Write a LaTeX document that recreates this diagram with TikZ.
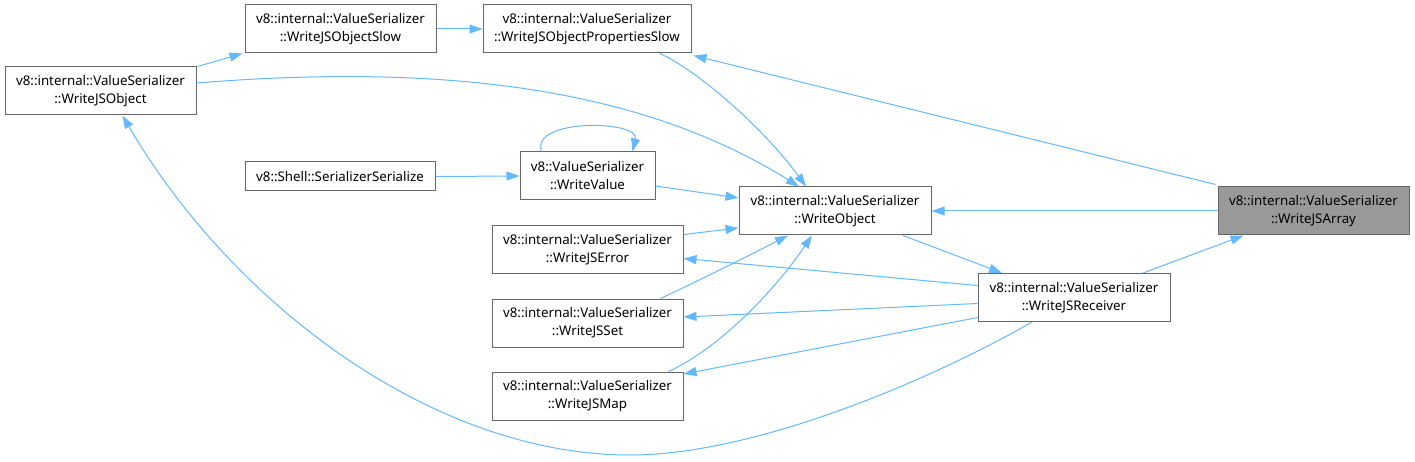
\documentclass[tikz,border=0pt]{standalone}
\usepackage{fontspec}
\setmainfont{Noto Sans}
\usetikzlibrary{arrows.meta}
\definecolor{edgeblue}{HTML}{63B8FF}
\definecolor{boxgray}{HTML}{666666}
\definecolor{hlgray}{HTML}{999999}
\begin{document}
\begin{tikzpicture}[x=1pt,y=-1pt,
  box/.style={draw=boxgray, line width=1pt, fill=white, align=center, inner sep=0pt,
    minimum height=48pt, font=\fontsize{13.3}{18}\selectfont},
  edge/.style={draw=edgeblue, line width=1pt, -{Triangle[length=13pt,width=9pt]}}]
\useasboundingbox (0,0) rectangle (1415,462);

\node[box, minimum width=191pt] (wjso) at (100.5,91) {v8::internal::ValueSerializer\\::WriteJSObject};
\node[box, minimum width=191pt] (slow) at (340.5,29) {v8::internal::ValueSerializer\\::WriteJSObjectSlow};
\node[box, minimum width=208pt] (ps) at (587,29) {v8::internal::ValueSerializer\\::WriteJSObjectPropertiesSlow};
\node[box, minimum width=190pt, minimum height=29pt] (ss) at (340,176.5) {v8::Shell::SerializerSerialize};
\node[box, minimum width=135pt] (wv) at (587.5,176) {v8::ValueSerializer\\::WriteValue};
\node[box, minimum width=192pt] (wo) at (835,211) {v8::internal::ValueSerializer\\::WriteObject};
\node[box, minimum width=191pt] (wje) at (587.5,249.5) {v8::internal::ValueSerializer\\::WriteJSError};
\node[box, minimum width=191pt] (wjs) at (587.5,323) {v8::internal::ValueSerializer\\::WriteJSSet};
\node[box, minimum width=191pt] (wjm) at (587.5,396) {v8::internal::ValueSerializer\\::WriteJSMap};
\node[box, minimum width=191pt, fill=hlgray] (wja) at (1313.5,211) {v8::internal::ValueSerializer\\::WriteJSArray};
\node[box, minimum width=192pt] (wjr) at (1074,297.5) {v8::internal::ValueSerializer\\::WriteJSReceiver};

% edges
\draw[edge] ([xshift=1pt]wjso.north east) -- ([xshift=-2pt]slow.south west);
\draw[edge] (slow.east) -- (ps.west);
\draw[edge] ([yshift=8pt]wjso.east) .. controls (480,60) and (660,100) .. ([xshift=-36pt]wo.north);
\draw[edge] ([xshift=73pt]ps.south) .. controls (700,72) and (765,130) .. ([xshift=-29pt]wo.north);
\draw[edge] ([xshift=-2pt,yshift=2pt]wja.north west) -- ([xshift=2pt,yshift=-2pt]ps.south east);
\draw[edge] ([xshift=-46pt]wv.north) .. controls (530,118) and (640,120) .. ([xshift=45pt]wv.north);
\draw[edge] (ss.east) -- (wv.west);
\draw[edge] ([yshift=-10pt]wv.east) -- ([yshift=13pt]wo.west);
\draw[edge] (wja.west) -- (wo.east);
\draw[edge] ([yshift=15pt]wje.east) -- ([yshift=-17pt]wo.west);
\draw[edge] ([xshift=68pt]wo.south) -- ([xshift=-72pt]wjr.north);
\draw[edge] ([xshift=69pt]wjr.north) -- ([xshift=-70pt]wja.south);
\draw[edge] ([yshift=12pt]wjr.west) -- ([yshift=-9pt]wje.east);
\draw[edge] ([yshift=-6pt]wjr.west) -- ([yshift=6pt]wjs.east);
\draw[edge] ([yshift=-20pt]wjr.west) -- ([yshift=22pt]wjm.east);
\draw[edge] ([xshift=73pt]wjs.north) .. controls (700,280) and (750,255) .. ([xshift=-47pt]wo.south);
\draw[edge] ([xshift=81pt]wjm.north) .. controls (720,348) and (775,290) .. ([xshift=-23pt]wo.south);
\draw[edge] ([xshift=-42pt]wjr.south) .. controls (940,375) and (760,455) .. (630,455)
  .. controls (430,455) and (230,300) .. ([xshift=22pt]wjso.south);
\end{tikzpicture}
\end{document}
